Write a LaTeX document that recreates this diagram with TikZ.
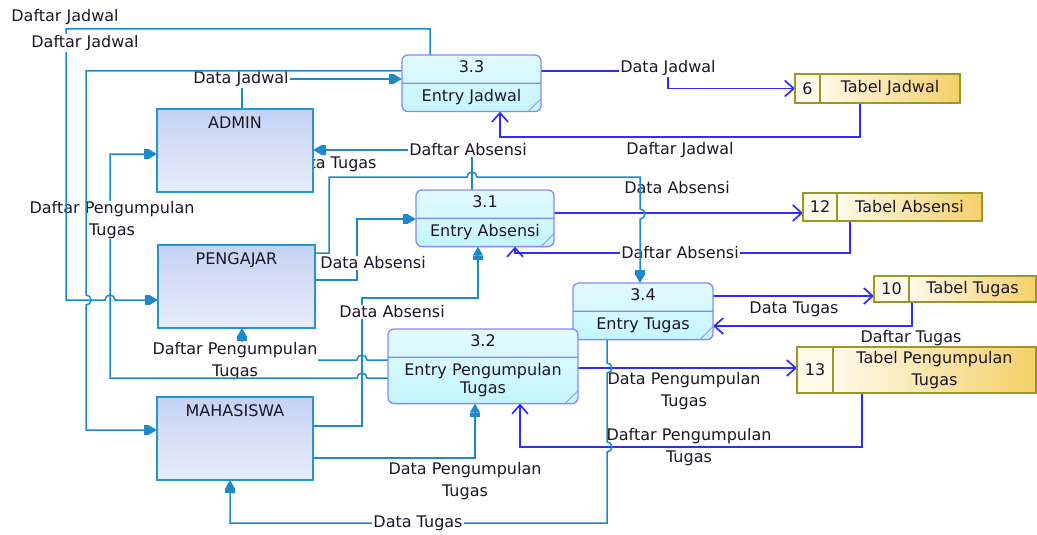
\documentclass[tikz,border=0pt]{standalone}
\usepackage{fontspec}
\setmainfont{DejaVu Sans}
\usetikzlibrary{arrows.meta,positioning,shapes.multipart}

\definecolor{garisent}{RGB}{40,148,208}
\definecolor{isient}{RGB}{196,210,244}
\definecolor{isient2}{RGB}{232,237,251}
\definecolor{garisproses}{RGB}{135,135,255}
\definecolor{isiproses}{RGB}{226,251,255}
\definecolor{isiproses2}{RGB}{196,246,254}
\definecolor{garissimpan}{RGB}{155,150,40}
\definecolor{isisimpan}{RGB}{254,250,234}
\definecolor{isisimpan2}{RGB}{244,208,104}
\definecolor{alirent}{RGB}{28,138,202}
\definecolor{alirbiru}{RGB}{45,45,255}
\definecolor{teks}{RGB}{28,22,40}

\newcommand{\teksdfd}{\fontsize{16}{18}\selectfont}
\newcommand{\teksket}{\fontsize{16}{21.5}\selectfont}

\pgfdeclarelayer{belakang}
\pgfsetlayers{belakang,main}

\begin{document}
\begin{tikzpicture}[
    x=1pt, y=-1pt,
    entitas/.style={draw=garisent, line width=1.4pt, top color=isient, bottom color=isient2,
      anchor=north west, outer sep=0pt, inner xsep=0pt, inner ysep=8pt,
      text height=11.6pt, text depth=55.4pt, font=\teksdfd, text=teks},
    proses/.style={rectangle split, rectangle split parts=2, draw=garisproses, line width=1.3pt,
      rounded corners=6pt, top color=isiproses, bottom color=isiproses2, anchor=north west,
      align=center, inner ysep=4.5pt, outer sep=0pt, font=\teksdfd, text=teks},
    simpanno/.style={draw=garissimpan, line width=1.4pt, fill=isisimpan, anchor=north west,
      inner sep=0pt, outer sep=0pt, font=\teksdfd, text=teks},
    simpan/.style={draw=garissimpan, line width=1.4pt, left color=isisimpan, right color=isisimpan2,
      inner sep=0pt, outer sep=0pt, align=center, font=\teksket, text=teks},
    ket/.style={font=\teksket, text=teks, inner sep=1pt, align=center},
    ketputih/.style={ket, fill=white},
    alir/.style={draw=alirent, line width=1.5pt,
      -{Rectangle[length=4pt,width=10pt]Triangle[length=9pt,width=10pt]}},
    alirsimpan/.style={draw=alirbiru, line width=1.7pt, -{Straight Barb[length=9pt,width=16pt]}}
  ]
\useasboundingbox (0,0) rectangle (1037,535);

% entitas luar
\node[entitas, minimum width=156pt] (admin) at (157,109) {ADMIN};
\node[entitas, minimum width=157pt] (pengajar) at (158,245) {PENGAJAR};
\node[entitas, minimum width=156pt] (mahasiswa) at (157,397) {MAHASISWA};

% proses
\node[proses, minimum width=139pt] (p33) at (402,55) {\strut 3.3 \nodepart{two}\strut Entry Jadwal};
\node[proses, minimum width=138pt] (p31) at (416,190) {\strut 3.1 \nodepart{two}\strut Entry Absensi};
\node[proses, minimum width=140pt] (p34) at (573,283) {\strut 3.4 \nodepart{two}\strut Entry Tugas};
\node[proses, minimum width=190pt] (p32) at (388,329) {\strut 3.2 \nodepart{two}\strut Entry Pengumpulan\\\strut Tugas};
\foreach \p in {p33,p31,p34,p32}
  \draw[garisproses, line width=0.8pt] ([xshift=-13pt]\p.south east) -- ([yshift=13pt]\p.south east);

% data store
\node[simpanno, minimum width=25pt, minimum height=29pt] (s6) at (795,74) {6};
\node[simpan, minimum width=140pt, minimum height=29pt, right=0pt of s6] (tjadwal) {Tabel Jadwal};
\node[simpanno, minimum width=34pt, minimum height=28pt] (s12) at (803,193) {12};
\node[simpan, minimum width=145pt, minimum height=28pt, right=0pt of s12] (tabsensi) {Tabel Absensi};
\node[simpanno, minimum width=35pt, minimum height=26pt] (s10) at (874,276) {10};
\node[simpan, minimum width=127pt, minimum height=26pt, right=0pt of s10] (ttugas) {Tabel Tugas};
\node[simpanno, minimum width=36pt, minimum height=46pt] (s13) at (797,347) {13};
\node[simpan, minimum width=203pt, minimum height=46pt, right=0pt of s13] (tpt) {Tabel Pengumpulan\\Tugas};

\begin{pgfonlayer}{belakang}
% aliran
\draw[alir] ([xshift=7pt]admin.north) |- (p33.west |- 0,79);
\draw[alir] (p31.north -| 472,0) |- (admin.east |- 0,150);
\draw[alir] (pengajar.east |- 0,280) -| (357,219) -- (p31.west |- 0,219);
\draw[alir] (mahasiswa.east |- 0,426) -| (362,298) -| (p31.south -| 478,0);
\draw[alir] (mahasiswa.east |- 0,458) -| (p32.south -| 475,0);
\draw[alir] (p32.west |- 0,360) -- (367,360) arc[start angle=0, end angle=180, radius=5pt]
  -| (pengajar.south -| 242,0);
\draw[alirsimpan] (p33.east |- 0,71) -- (668,71) |- (s6.west);
\draw[alirsimpan] (tjadwal.south -| 860,0) |- (500,137) -- (p33.south -| 500,0);
\draw[alirsimpan] (p31.east |- 0,213) -- (s12.west |- 0,213);
\draw[alirsimpan] (tabsensi.south -| 850,0) |- (515,253) -- (p31.south -| 515,0);
\draw[alirsimpan] (p34.east |- 0,296) -- (s10.west |- 0,296);
\draw[alirsimpan] (ttugas.south -| 912,0) |- (p34.east |- 0,326);
\draw[alirsimpan] (p32.east |- 0,368) -- (s13.west |- 0,368);
\draw[alirsimpan] (tpt.south -| 862,0) |- (520,447) -- (p32.south -| 520,0);

% label aliran
\node[ketputih] (kDJ3) at (241,79) {Data Jadwal};
\node[ketputih] (kDJ4) at (668,68) {Data Jadwal};
\node[ket] (kDJ5) at (680,150) {Daftar Jadwal};
\node[ketputih] (kDA1) at (468,150) {Daftar Absensi};
\node[ket] (kDT1) at (332,164) {Data Tugas};
\node[ket] (kDA2) at (677,188) {Data Absensi};
\node[ketputih] (kDA3) at (373,263) {Data Absensi};
\node[ketputih] (kDA4) at (680,253) {Daftar Absensi};
\node[ketputih] (kDA5) at (392,312) {Data Absensi};
\node[ket] (kDT2) at (794,309) {Data Tugas};
\node[ket] (kDT3) at (911,338) {Daftar Tugas};
\node[ket] (kDP3) at (684,391) {Data Pengumpulan\\Tugas};
\node[ket] (kDP4) at (689,447) {Daftar Pengumpulan\\Tugas};
\node[ket] (kDP5) at (465,481) {Data Pengumpulan\\Tugas};
\node[ketputih] (kDP2) at (235,361) {Daftar Pengumpulan\\Tugas};

\draw[alir] (p32.west |- 0,378) -- (367,378) arc[start angle=0, end angle=180, radius=5pt]
  -| (110,154) -- (admin.west |- 0,154);
\node[ketputih] (kDP1) at (112,220) {Daftar Pengumpulan\\Tugas};

\draw[alir] ([xshift=-41.5pt]p33.north) |- (66,29) -- (66,300) -- (105,300)
  arc[start angle=180, end angle=0, radius=5pt] -- (pengajar.west |- 0,300);
\draw[alir] (p33.west |- 0,71) -| (86,295) arc[start angle=90, end angle=-90, radius=5pt]
  |- (mahasiswa.west |- 0,430);
\node[ket] (kDJ1) at (65,17) {Daftar Jadwal};
\node[ketputih] (kDJ2) at (85,43) {Daftar Jadwal};

\draw[alir] (pengajar.east |- 0,253) -| (329,177) -- (467,177)
  arc[start angle=180, end angle=0, radius=5pt] -- (640,177) -- (640,209)
  arc[start angle=90, end angle=-90, radius=5pt] -- (p34.north -| 640,0);
\draw[alir] (p34.south -| 607,0) -- (607,363) arc[start angle=90, end angle=-90, radius=5pt]
  -- (607,442) arc[start angle=90, end angle=-90, radius=5pt]
  -- (607,523) -| (mahasiswa.south -| 230,0);
\node[ketputih] (kDT4) at (418,523) {Data Tugas};
\end{pgfonlayer}
\end{tikzpicture}
\end{document}
